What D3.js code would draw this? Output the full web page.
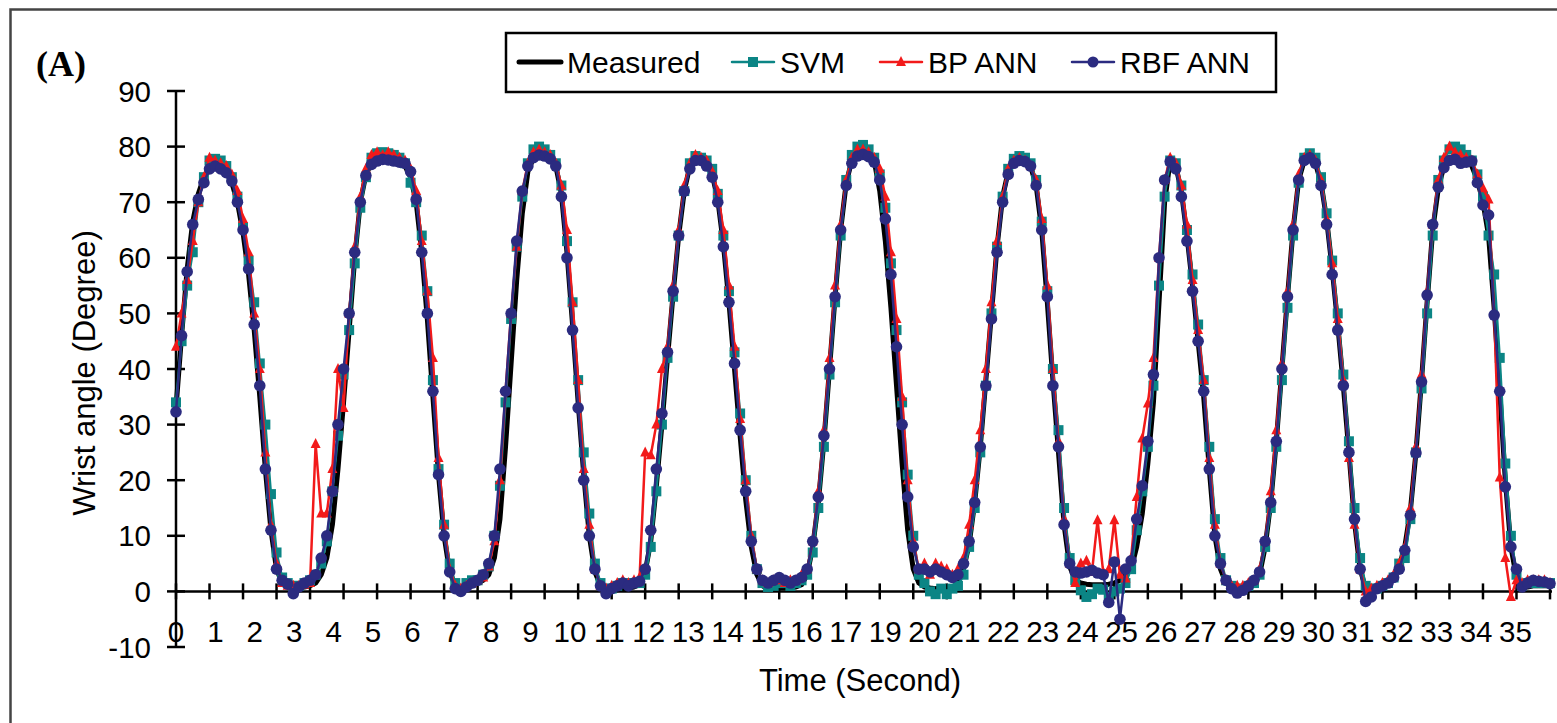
<!DOCTYPE html>
<html>
<head>
<meta charset="utf-8">
<script src="https://cdn.jsdelivr.net/npm/d3@7"></script>
<style>
  html, body { margin: 0; padding: 0; background: #fff; }
  svg { display: block; }
  text { font-family: "Liberation Sans", Arial, sans-serif; fill: #000; }
</style>
</head>
<body>
<svg id="chart" width="1557" height="723"></svg>
<script>
// Wrist angle (degrees), sampled every ~0.147 s
const measured = [33,46,58,66.5,71.5,74.5,76,76.5,76.2,75.3,73.5,70,64.5,57,47,35,22,11,4,1.5,0.8,0.5,0.5,0.8,1,1.5,3,6,12,22,34,47,60,70,75,77,77.6,77.8,77.8,77.6,77.2,76.5,74.5,70,61,49,35,21,10,3.5,1,0.5,0.7,1,1.5,2,3,6,13,26,41,56,68,75.5,78,78.5,78.5,78,76.5,71.5,61,48,34,21,10,3.5,1,0.3,0.2,0.3,0.5,0.6,0.8,1.2,3.5,9,19,30,42,53.5,64,72,76.5,77.8,77.8,77,75,70.5,62.5,52,40,28,16.5,8,3,1,0.5,0.5,0.6,0.6,0.7,0.8,1.2,3,8,16,27,40,53,65,73.5,77.5,79,79.2,78.8,77.5,72,63,51,37,23,11,4,1.5,0.8,0.6,0.5,0.5,0.6,0.8,1.5,4,8.5,16,26,38,50,62,71,75.5,77.3,77.8,77.6,76.5,73,65,52,38,25,12,4.5,2,1.5,1.3,1.2,1.2,1.2,1.3,1.5,2,3,4,8,14,23,34,52,70,77.5,76.5,72,64,55,45,35,22,10,4,1.5,0.6,0.3,0.3,0.5,1.2,3,8,16,27,40,53,65,74,77.5,78,77,73.5,67,58,48,37,25,12.5,4,0.5,0.2,0.3,0.6,1.2,2.5,4.5,8,14.5,25,38,52,65,72.5,76.5,78,78.2,78,77.5,76.5,74,70,64,51,36,20,8,2.5,0.8,0.8,1,1,1,1];

const svm = [34,45,55,61,70,74.5,77.5,77.8,77.5,76.5,74.5,71,65.5,59.5,52,41,30,17.5,7,2.5,1.5,1,1,1.5,2,3,5,9,18,28,39,47,59,69,74.5,78,78.8,79,78.8,78.5,78,77,73.5,70,64,54,38,22,12,5,1.5,0.5,1.5,2,2,3,4.5,10,19,34,49,62,71,77,79.5,80,79.5,78.5,77,73,63,52,38,25,14,5,1.5,0.5,0.5,1,1.5,1.5,1.5,1.5,3,8,18,30,42,53,64,72,77,78.3,78,77.5,76,71.5,64,54,43,32,20,10,4,1.5,0.8,1,1.5,1.5,1,1.5,2,3,7,15,26,39,52,64,74,78.5,80,80.3,79.5,78,75,69,59,47,34,21,10,3,1.5,0,-0.5,0.5,-0.5,0.5,1,3,8,15,25,37,50,62,71,76,77.8,78.3,78,77,74,66.5,54,40,29,15,6,2,0.2,-1,-0.5,0.5,0.3,-1,0,0.5,1.5,4,11,18,26,37,55,71,77.5,77,73,65,57,48,38,26,13,6,2,1,0.5,0.5,1,1.5,3,8,15,26,38,51,64,73.5,78,78.8,78,74.5,68,59.5,50,39,27,15,6,1,0.5,0.5,1,1.5,2.5,5,6,13,25,36.5,50,64,74,77.5,79.5,80,79.5,78.5,77.5,75,71,64,57,42,23,10,3,1,1.5,1.5,1.5,1.5,1.5];

const bpAnn = [44,50,56,63,70,74.5,78,77.5,77,76.5,75,72,67,61,50,40,25,12,5,1.5,1,1,1,1.2,1.5,26.5,14,14,22,40,33,50,62,71,76,78.5,79,78.5,79,78.5,78,77.5,76,72,63,54,42,24,12,4,1,0.5,1,1.5,2,2.5,4.5,9,20,36,50,62,72,77,79,79.5,79,78.5,77,73,65,52,38,22,12,4,1,0.5,1,1.5,2,1.5,2,2.5,25,24.5,30,40,44,55,65,73,77,78.5,78,77.5,75.5,72,65,55,44,31,20,10,4,2,1.5,2,2,1.5,2,2,3,4,9,18,29,42,55,66,74,78,79.5,79.5,79,78,76,71,61,49,35,20,9,4,5,3,5,4.5,4,3,4,6,12,20,29,40,52,63,71,76,77.5,78,77.5,76.5,74,67,55,40,27,13,5,1.5,5,5.5,3.5,12.8,3.5,4,12.8,3,2.3,6,17,27.5,33.8,42,60,74,78,77,73,66,56,47,38,24,12,5,2,1,1,1,1.5,2,4,9,18,29,41,54,66,75,78,78.5,77.5,74,67,59,49,38,24,12,4,0,0.5,1,1.5,2,3,5,8,15,26,39,54,66,74,78,80,79,78.5,78,77.5,75,72.5,70.5,50,20.5,6,-1,2,1.5,2,2,2,2,1.5];

const rbfAnn = [32.3,46,57.5,66,70.5,73.5,76,76.5,76,75.3,73.8,70,65,58,48,37,22,11,4,2,1.3,-0.4,0.8,1.5,2,3,6,10,18,30,40,50,61,70,74.8,76.8,77.4,77.7,77.6,77.4,77.2,77,75.5,70.5,61,50,36,21,10,3.5,0.5,0,0.8,1.5,2,3,5,10,22,36,50,63,72,76.5,78,78.5,78.3,77.8,76.5,71,60,47,33,20,10,4,1,-0.4,0.5,1,1.5,1,1.5,1.8,4,11,22,32,43,54,64,72,76,77.5,77.5,76.5,74.5,70,62,52,41,29,18,9,4,2,1.5,2,2.5,2,1.5,2,2.5,4,9,17,28,40,53,65,73,77,78.3,78.6,78.2,77.2,74,67,57,44,30,17,8,4,4,3.5,4,3.5,3,2.5,3,5,9,16,26,37,49,61,70,75,77,77.5,77.3,76.5,73,65,53,37,26,12,5,3.5,3.3,3.5,3.8,3.3,3,-2,5.3,-5,4,5.5,13,19,27,39,60,74,77.3,76,71,63,54,45,36,22,10,5,2,0.5,-0.3,0.2,1,2,3.5,9,16,27,40,53,65,74,77.5,78,77,73,66,57,47,37,25,13,4,-1.8,-1,0.5,1,1.5,2.5,4,7.4,13.7,24.9,37.7,53.3,66,72.7,76.2,77.5,77.7,77,77.2,77.4,73.5,69.5,67.7,49.7,36,18.8,8,4,0.8,1.5,2,1.8,1.7,1.4];

const sampleStep = 0.147;                 // seconds per sample
const timeSec = d3.range(measured.length).map(i => i * sampleStep);

// Category axis: a label every 7 samples, a tick mark every 6 samples
const xTickLabels = ["0","1","2","3","4","5","6","7","8","9","10","11","12","13","14","15","16","17",
                     "19","20","21","22","23","24","25","26","27","28","29","30","31","32","33","34","35"];
const labelEvery = 7, tickEvery = 6;
const yTicks = [-10,0,10,20,30,40,50,60,70,80,90];

const seriesNames = ["Measured","SVM","BP ANN","RBF ANN"];
const seriesColors = ["#000000","#0b8585","#f21a1a","#2b2b80"];

const svg = d3.select("#chart");
const FONT = 29.5;

// outer frame
svg.append("rect").attr("x",10.5).attr("y",9.5).attr("width",1580).attr("height",740)
  .attr("fill","none").attr("stroke","#444").attr("stroke-width",2.5);

const x = d3.scaleLinear().domain([0, timeSec[timeSec.length-1]]).range([176, 1550]);
const y = d3.scaleLinear().domain([-10, 90]).range([647, 91]);

// y axis
const yAxis = svg.append("g");
yAxis.append("line").attr("x1",x(0)).attr("x2",x(0)).attr("y1",y(-10)).attr("y2",y(90))
  .attr("stroke","#000").attr("stroke-width",2.5);
yAxis.selectAll("line.tk").data(yTicks).join("line").attr("class","tk")
  .attr("x1",x(0)-9).attr("x2",x(0)+9).attr("y1",d=>y(d)).attr("y2",d=>y(d))
  .attr("stroke","#000").attr("stroke-width",2.5);
yAxis.selectAll("text").data(yTicks).join("text")
  .attr("x",151).attr("y",d=>y(d)).attr("dy","0.36em").attr("text-anchor","end")
  .attr("font-size",FONT).text(d=>d);

// x axis at zero
const xAxis = svg.append("g");
xAxis.append("line").attr("x1",x(0)).attr("x2",1552).attr("y1",y(0)).attr("y2",y(0))
  .attr("stroke","#000").attr("stroke-width",2.5);
const tickIdx = d3.range(0, timeSec.length, tickEvery);
xAxis.selectAll("line.tk").data(tickIdx).join("line").attr("class","tk")
  .attr("x1",i=>x(timeSec[i])).attr("x2",i=>x(timeSec[i]))
  .attr("y1",y(0)-8).attr("y2",y(0)+8).attr("stroke","#000").attr("stroke-width",2.5);
xAxis.selectAll("text").data(xTickLabels).join("text")
  .attr("x",(d,k)=>x(timeSec[k*labelEvery]) + k*0.3).attr("y",642)
  .attr("text-anchor","middle").attr("font-size",FONT).text(d=>d);

// titles
svg.append("text").attr("transform","translate(95,373) rotate(-90)")
  .attr("text-anchor","middle").attr("font-size",31).text("Wrist angle (Degree)");
svg.append("text").attr("x",860).attr("y",691).attr("text-anchor","middle")
  .attr("font-size",31).text("Time (Second)");
svg.append("text").attr("x",36).attr("y",76)
  .attr("font-weight","bold").attr("font-size",36)
  .style("font-family","'Liberation Serif', 'Times New Roman', serif").text("(A)");

// series
const line = d3.line().x((d,i)=>x(timeSec[i])).y(d=>y(d));
const plot = svg.append("g");

function markerPath(kind, cx, cy) {
  if (kind === "square") return `M${cx-5},${cy-5}h10v10h-10Z`;
  if (kind === "triangle") return `M${cx},${cy-6}L${cx+5},${cy+4}L${cx-5},${cy+4}Z`;
  return null;
}

// Measured
plot.append("path").datum(measured).attr("d",line).attr("fill","none")
  .attr("stroke",seriesColors[0]).attr("stroke-width",5).attr("stroke-linejoin","round");

// SVM
plot.append("path").datum(svm).attr("d",line).attr("fill","none")
  .attr("stroke",seriesColors[1]).attr("stroke-width",2.5);
plot.append("g").selectAll("path").data(svm).join("path")
  .attr("d",(d,i)=>markerPath("square", x(timeSec[i]), y(d))).attr("fill",seriesColors[1]);

// BP ANN
plot.append("path").datum(bpAnn).attr("d",line).attr("fill","none")
  .attr("stroke",seriesColors[2]).attr("stroke-width",2.5);
plot.append("g").selectAll("path").data(bpAnn).join("path")
  .attr("d",(d,i)=>markerPath("triangle", x(timeSec[i]), y(d))).attr("fill",seriesColors[2]);

// RBF ANN
plot.append("path").datum(rbfAnn).attr("d",line).attr("fill","none")
  .attr("stroke",seriesColors[3]).attr("stroke-width",2.5);
plot.append("g").selectAll("circle").data(rbfAnn).join("circle")
  .attr("cx",(d,i)=>x(timeSec[i])).attr("cy",d=>y(d)).attr("r",5.8).attr("fill",seriesColors[3]);

// legend
const lg = svg.append("g");
lg.append("rect").attr("x",506).attr("y",33).attr("width",770).attr("height",59)
  .attr("fill","#fff").attr("stroke","#000").attr("stroke-width",2.5);
const legendItems = [
  {name: seriesNames[0], color: seriesColors[0], x0: 519, kind: null, w: 5},
  {name: seriesNames[1], color: seriesColors[1], x0: 732, kind: "square", w: 2.5},
  {name: seriesNames[2], color: seriesColors[2], x0: 880, kind: "triangle", w: 2.5},
  {name: seriesNames[3], color: seriesColors[3], x0: 1072, kind: "circle", w: 2.5}
];
const ly = 62;
legendItems.forEach(it => {
  lg.append("line").attr("x1",it.x0).attr("x2",it.x0+42).attr("y1",ly).attr("y2",ly)
    .attr("stroke",it.color).attr("stroke-width",it.w).attr("stroke-linecap","round");
  const cx = it.x0 + 21;
  if (it.kind === "circle") lg.append("circle").attr("cx",cx).attr("cy",ly).attr("r",5.5).attr("fill",it.color);
  else if (it.kind) lg.append("path").attr("d",markerPath(it.kind,cx,ly)).attr("fill",it.color);
  lg.append("text").attr("x",it.x0+48).attr("y",ly).attr("dy","0.36em")
    .attr("font-size",30).text(it.name);
});
</script>
</body>
</html>
